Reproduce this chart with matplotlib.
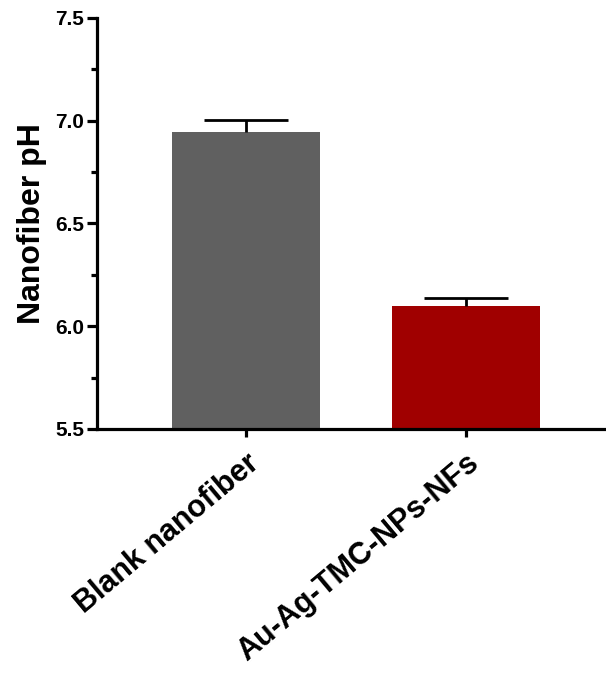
import numpy as np
import matplotlib.pyplot as plt
from matplotlib.ticker import MultipleLocator

plt.rcParams['font.family'] = ['Liberation Sans', 'DejaVu Sans']
plt.rcParams['font.weight'] = 'bold'

groups = ["Blank nanofiber", "Au-Ag-TMC-NPs-NFs"]
ph_mean = [6.945, 6.10]
ph_err = [0.06, 0.035]
colors = ["#606060", "#a00000"]

fig = plt.figure(figsize=(6.06, 6.73), dpi=100)
ax = fig.add_axes([0.160, 0.3626, 0.84, 0.6107])

x = np.arange(len(groups))
ax.bar(x, ph_mean, width=0.673, color=colors, zorder=2)
eb = ax.errorbar(x, ph_mean, yerr=[[0, 0], ph_err], fmt='none', ecolor='black',
                 elinewidth=2, capsize=30, capthick=2, zorder=3)
# only the upper cap
eb[1][0].remove()

ax.set_ylim(5.5, 7.5)
ax.set_xlim(-0.677, 1.636)
ax.yaxis.set_major_locator(MultipleLocator(0.5))
ax.yaxis.set_minor_locator(MultipleLocator(0.25))
ax.set_yticklabels([f"{v:.1f}" for v in ax.get_yticks()])

ax.set_xticks(x)
ax.set_xticklabels(groups, rotation=40, ha='right', rotation_mode='anchor', fontsize=22)
ax.set_ylabel("Nanofiber pH", fontsize=23, fontweight='bold', labelpad=6)

for s in ['top', 'right']:
    ax.spines[s].set_visible(False)
for s in ['left', 'bottom']:
    ax.spines[s].set_linewidth(2.3)

ax.tick_params(axis='y', which='major', width=2.3, length=7, labelsize=15, pad=2)
ax.tick_params(axis='y', which='minor', width=2.3, length=4)
ax.tick_params(axis='x', width=2.3, length=6, pad=8)

plt.savefig("out.png", dpi=100)
